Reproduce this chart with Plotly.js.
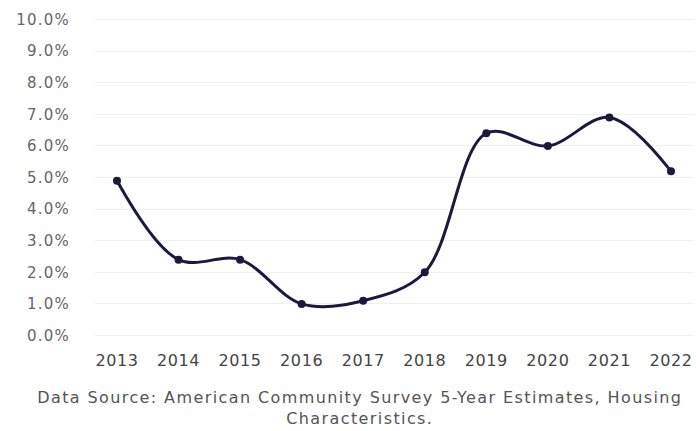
<!DOCTYPE html>
<html>
<head>
<meta charset="utf-8">
<script src="https://cdn.plot.ly/plotly-3.0.1.min.js"></script>
<style>
html,body{margin:0;padding:0;background:#fff;}
#chart{width:696px;height:431px;}
#chart .annotation-text{letter-spacing:1.4px;}
#chart .ytick text{letter-spacing:1.2px;}
#chart .xtick text{letter-spacing:0.6px;}
</style>
</head>
<body>
<div id="chart"></div>
<script>
const years = [2013, 2014, 2015, 2016, 2017, 2018, 2019, 2020, 2021, 2022];
const rates = [4.9, 2.4, 2.4, 1.0, 1.1, 2.0, 6.4, 6.0, 6.9, 5.2];
const yTicks = [0, 1, 2, 3, 4, 5, 6, 7, 8, 9, 10];
const yTickText = yTicks.map(v => v.toFixed(1) + '%');
const sourceText = 'Data Source: American Community Survey 5-Year Estimates, Housing<br>Characteristics.';

const trace = {
  x: years.map(String),
  y: rates,
  type: 'scatter',
  mode: 'lines+markers',
  line: {color: '#1b1a3d', width: 3, shape: 'spline', smoothing: 1},
  marker: {color: '#1b1a3d', size: 8},
  hoverinfo: 'skip'
};

const layout = {
  width: 696, height: 431,
  margin: {l: 95, r: 2, t: 10, b: 86},
  paper_bgcolor: '#fff', plot_bgcolor: '#fff',
  showlegend: false,
  font: {family: 'DejaVu Sans, sans-serif', color: '#555'},
  xaxis: {
    type: 'category',
    range: [-0.357, 9.374],
    showgrid: false, zeroline: false, showline: false, ticks: '',
    tickfont: {size: 16, color: '#444'},
    ticklabelstandoff: 4
  },
  yaxis: {
    range: [-0.3, 10.3],
    tickvals: yTicks, ticktext: yTickText,
    showgrid: true, gridcolor: '#f0f0f0', gridwidth: 1,
    zeroline: false, showline: false, ticks: '',
    tickfont: {size: 15, color: '#666'},
    ticklabelstandoff: 24
  },
  annotations: [{
    text: sourceText,
    xref: 'paper', yref: 'paper',
    x: 0.442, y: -0.122, xanchor: 'center', yanchor: 'top',
    showarrow: false, align: 'center',
    font: {size: 16, color: '#555'}
  }]
};

Plotly.newPlot('chart', [trace], layout, {displayModeBar: false, staticPlot: true});
</script>
</body>
</html>
